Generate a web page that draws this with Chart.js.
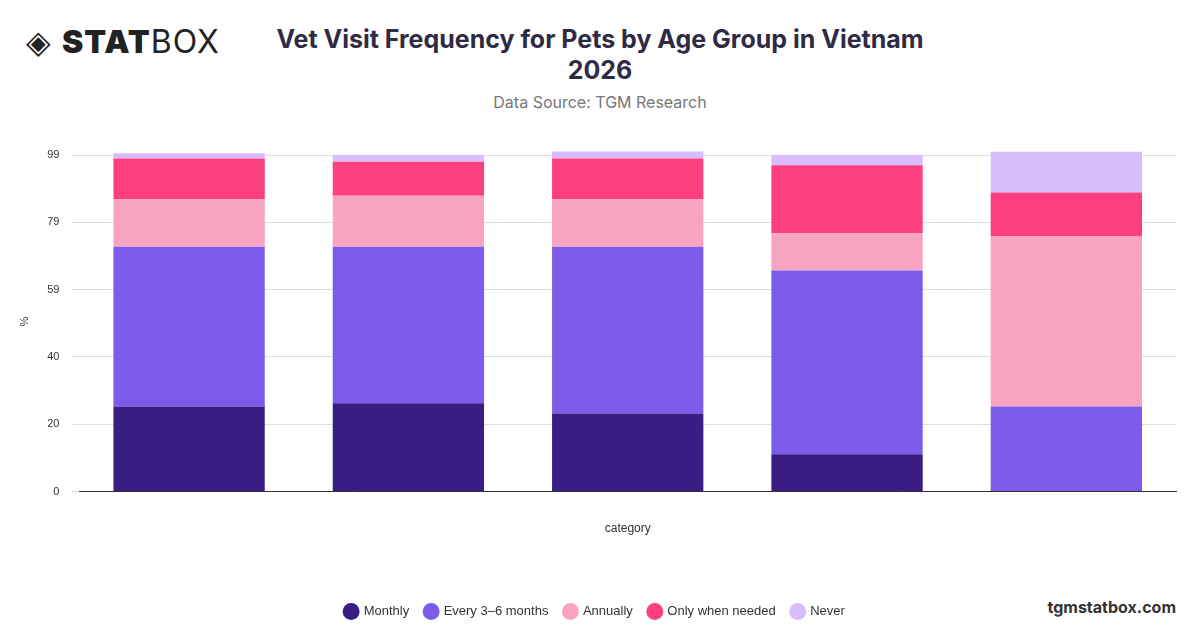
<!DOCTYPE html>
<html>
<head>
<meta charset="utf-8">
<script src="https://cdn.jsdelivr.net/npm/chart.js@4"></script>
<style>
  body { margin: 0; width: 1200px; height: 628px; background: #fff; font-family: Inter, "Noto Sans", sans-serif; position: relative; overflow: hidden; }
  #logo { position: absolute; left: 26px; top: 22px; font-size: 32px; color: #222; letter-spacing: 1px; }
  #logo b { font-weight: 900; }
  #title { position: absolute; left: 200px; width: 800px; top: 24px; text-align: center; font-size: 25px; font-weight: 700; color: #2f2b45; line-height: 31px; }
  #source { position: absolute; left: 200px; width: 800px; top: 92px; text-align: center; font-size: 16px; color: #777; }
  #site { position: absolute; right: 24px; top: 597px; font-size: 16px; font-weight: 700; color: #333; }
  #wrap { position: absolute; left: 14px; top: 133px; width: 1172px; height: 495px; }
</style>
</head>
<body>
<div id="logo">◈ <b>STAT</b>BOX</div>
<div id="title">Vet Visit Frequency for Pets by Age Group in Vietnam<br>2026</div>
<div id="source">Data Source: TGM Research</div>
<div id="site">tgmstatbox.com</div>
<div id="wrap"><canvas id="chart"></canvas></div>
<script>
// DATA
const categories = ["", "", "", "", ""];
const monthly = [25, 26, 23, 11, 0];
const every3to6 = [47, 46, 49, 54, 25];
const annually = [14, 15, 14, 11, 50];
const onlyWhenNeeded = [12, 10, 12, 20, 13];
const never = [1.5, 2, 3, 3, 12];
const yTicks = [0, 19.8, 39.6, 59.4, 79.2, 99];

const mk = (label, data, color) => ({ label, data, backgroundColor: color, borderWidth: 0, barPercentage: 0.69, categoryPercentage: 1 });

new Chart(document.getElementById("chart"), {
  type: "bar",
  data: {
    labels: categories,
    datasets: [
      mk("Monthly", monthly, "#3a1d82"),
      mk("Every 3–6 months", every3to6, "#7d5cec"),
      mk("Annually", annually, "#f9a3c3"),
      mk("Only when needed", onlyWhenNeeded, "#fd3e80"),
      mk("Never", never, "#d8bcfb")
    ]
  },
  options: {
    responsive: true,
    maintainAspectRatio: false,
    animation: false,
    layout: { padding: { right: 10, bottom: 0 } },
    plugins: {
      legend: {
        position: "bottom",
        labels: { usePointStyle: true, pointStyle: "circle", boxWidth: 12, boxHeight: 12, padding: 16, color: "#333", font: { size: 13 } }
      },
      tooltip: { enabled: false }
    },
    scales: {
      x: {
        stacked: true,
        grid: { display: false },
        border: { color: "#333" },
        ticks: { display: false },
        title: { display: true, text: "category", color: "#333", font: { size: 12 }, padding: { top: 22, bottom: 53 } }
      },
      y: {
        stacked: true,
        min: 0,
        max: 100,
        afterBuildTicks: (ax) => { ax.ticks = yTicks.map(v => ({ value: v })); },
        ticks: { callback: (v) => Math.round(v), color: "#333", font: { size: 11 }, padding: 12 },
        grid: { color: "#ddd" },
        border: { display: false },
        title: { display: true, text: "%", color: "#333", font: { size: 11 } }
      }
    }
  }
});
</script>
</body>
</html>
